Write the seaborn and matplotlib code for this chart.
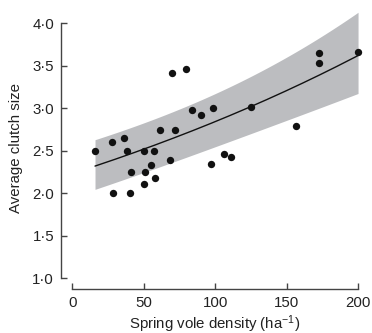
import numpy as np
import pandas as pd
import matplotlib
matplotlib.use("Agg")
import matplotlib.pyplot as plt
import seaborn as sns

# ---- data ----
vole_density = [15.9, 27.5, 28.2, 36.2, 38.3, 40.8, 40.6, 50.2, 50.6, 50.4,
                55.1, 56.9, 58.1, 61.1, 68.4, 70.0, 72.1, 79.8, 84.0, 90.1,
                97.1, 98.7, 105.9, 111.3, 125.3, 156.8, 172.5, 172.5, 200.0]
clutch_size = [2.50, 2.60, 2.00, 2.645, 2.50, 2.25, 2.00, 2.50, 2.25, 2.11,
               2.33, 2.50, 2.18, 2.74, 2.39, 3.41, 2.74, 3.46, 2.98, 2.92,
               2.35, 3.00, 2.46, 2.43, 3.02, 2.79, 3.655, 3.53, 3.66]

# fitted log-link model and its standard-error profile
fit_intercept = 0.8032
fit_slope = 0.002417
se_centre_x = 100.0
se_at_centre = 0.056
se_slope = 3.7e-4
z_value = 1.96

xticks = [0, 50, 100, 150, 200]
xtick_labels = ["0", "50", "100", "150", "200"]
yticks = [1.0, 1.5, 2.0, 2.5, 3.0, 3.5, 4.0]
ytick_labels = ["1·0", "1·5", "2·0", "2·5", "3·0", "3·5", "4·0"]

# ---- figure ----
sns.set_style("ticks")
plt.rcParams["font.family"] = ["Liberation Sans", "DejaVu Sans"]
plt.rcParams["mathtext.default"] = "regular"
plt.rcParams["mathtext.fontset"] = "custom"
plt.rcParams["mathtext.rm"] = "Liberation Sans"

FS = 10.8

fig = plt.figure(figsize=(3.72, 3.33), dpi=100)
ax = fig.add_axes([0.164, 0.1321, 0.8177, 0.849])

df = pd.DataFrame({"density": vole_density, "clutch": clutch_size})

xs = np.linspace(min(vole_density), max(vole_density), 200)
eta = fit_intercept + fit_slope * xs
se = np.sqrt(se_at_centre ** 2 + (se_slope * (xs - se_centre_x)) ** 2)
fit_df = pd.DataFrame({"density": xs, "clutch": np.exp(eta)})

ax.fill_between(xs, np.exp(eta - z_value * se), np.exp(eta + z_value * se),
                color="#bcbdc0", linewidth=0, zorder=1)
sns.lineplot(data=fit_df, x="density", y="clutch", ax=ax, color="#111111",
             linewidth=1.0, zorder=2)
sns.scatterplot(data=df, x="density", y="clutch", ax=ax, color="#111111",
                s=28, linewidth=0, zorder=3)

ax.set_xlim(-7.9, 205)
ax.set_ylim(0.874, 4.2)
ax.set_xticks(xticks, labels=xtick_labels)
ax.set_yticks(yticks, labels=ytick_labels)

for side in ["top", "right"]:
    ax.spines[side].set_visible(False)
ax.spines["left"].set_bounds(1.0, 4.0)
ax.spines["bottom"].set_bounds(0, 200)
for side in ["left", "bottom"]:
    ax.spines[side].set_color("#444444")
    ax.spines[side].set_linewidth(1.0)

ax.tick_params(axis="both", direction="in", length=4.5, width=1.0,
               color="#444444", labelsize=FS, labelcolor="#222222")
ax.tick_params(axis="y", pad=5.0)
ax.tick_params(axis="x", pad=5.0)

ax.set_xlabel("Spring vole density (ha$^{-1}$)", fontsize=FS, color="#222222")
ax.set_ylabel("Average clutch size", fontsize=FS, color="#222222")
ax.xaxis.label.set_va("baseline")
ax.xaxis.set_label_coords(0.506, -0.143)
ax.yaxis.set_label_coords(-0.125, 0.5)

fig.savefig("out.png", dpi=100)
